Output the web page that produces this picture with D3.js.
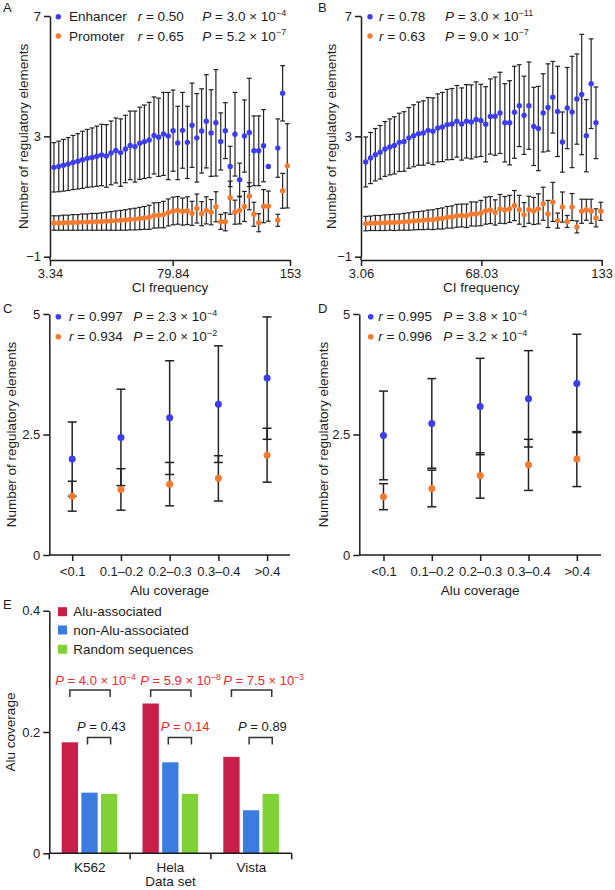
<!DOCTYPE html>
<html><head><meta charset="utf-8">
<script src="https://cdn.jsdelivr.net/npm/d3@7"></script>
<style>
body{margin:0;background:#fff}
svg{display:block}
text{font-family:"Liberation Sans",Arial,Helvetica,sans-serif}
</style>
</head><body>
<svg id="chart" width="615" height="890"></svg>
<script>
// ---------------- DATA ----------------
// Panel A (CI frequency bins)
const ciFreqA = [5.8,8.8,11.7,14.7,17.7,20.7,23.6,26.6,29.6,32.5,35.5,38.5,41.4,44.4,47.4,50.4,53.3,56.3,59.3,62.2,65.2,68.2,71.1,74.1,77.1,80.1,83.0,86.0,89.0,91.9,94.9,97.9,100.8,103.8,106.8,109.8,112.7,115.7,118.7,121.6,124.6,127.6,130.5,133.5,136.5,139.5,142.4,145.4,148.4,151.3];
const enhancerA = [1.97,2.00,2.04,2.08,2.13,2.17,2.22,2.27,2.30,2.34,2.38,2.35,2.45,2.53,2.46,2.58,2.70,2.66,2.77,2.82,2.88,3.03,2.97,3.08,3.01,3.19,2.78,3.20,2.80,3.37,2.95,3.18,3.50,3.11,3.45,2.83,3.19,2.00,3.07,1.56,3.01,3.13,2.52,2.52,2.69,2.00,null,2.61,4.43,null];
const enhancerSdA = [0.82,0.84,0.86,0.88,0.90,0.92,0.95,0.96,0.98,1.00,1.02,1.04,1.06,1.08,1.12,1.12,1.14,1.18,1.20,1.22,1.25,1.28,1.30,1.38,1.45,1.35,1.22,1.26,1.20,1.40,1.47,1.40,1.55,1.44,1.77,0.95,0.93,0.67,1.39,0.55,1.20,1.80,1.16,1.16,1.20,0,null,0.97,0.92,null];
const promoterA = [0.12,0.12,0.13,0.13,0.14,0.14,0.15,0.15,0.16,0.16,0.17,0.18,0.19,0.20,0.21,0.22,0.24,0.25,0.27,0.29,0.31,0.37,0.38,0.40,0.47,0.52,0.54,0.50,0.53,0.44,0.60,0.43,0.54,0.48,0.66,0.16,0.16,0.96,0.48,0.54,0.67,1.01,0.41,0.13,0.68,0.68,null,0.21,1.19,2.02];
const promoterSdA = [0.24,0.24,0.25,0.25,0.26,0.26,0.27,0.27,0.28,0.28,0.29,0.30,0.31,0.32,0.33,0.34,0.35,0.36,0.37,0.38,0.40,0.42,0.42,0.44,0.45,0.46,0.46,0.45,0.46,0.40,0.48,0.40,0.45,0.42,0.50,0.25,0.30,0.55,0.40,0.45,0.50,0.45,0.40,0.30,0.55,0.50,null,0.20,0.58,1.40];
const xTicksA = [3.34, 79.84, 153];

// Panel B
const ciFreqB = [5.6,8.2,10.8,13.4,16.0,18.6,21.1,23.7,26.3,28.9,31.5,34.1,36.7,39.3,41.9,44.5,47.0,49.6,52.2,54.8,57.4,60.0,62.6,65.2,67.8,70.4,72.9,75.5,78.1,80.7,83.3,85.9,88.5,91.1,93.7,96.3,98.8,101.4,104.0,106.6,109.2,111.8,114.4,117.0,119.6,122.2,124.7,127.3,129.9,132.5];
const enhancerB = [2.15,2.28,2.39,2.47,2.58,2.65,2.70,2.80,2.83,2.95,3.02,3.09,3.11,3.20,3.17,3.28,3.31,3.39,3.41,3.50,3.41,3.50,3.48,3.56,3.53,3.40,3.66,3.67,3.78,3.45,3.45,3.80,4.02,3.70,4.02,3.33,3.26,3.78,3.96,4.30,3.83,2.81,3.94,3.81,4.24,4.39,3.02,4.75,3.45,null];
const enhancerSdB = [0.83,0.85,0.87,0.89,0.91,0.93,0.95,0.97,0.99,1.01,1.03,1.05,1.07,1.09,1.11,1.13,1.15,1.17,1.18,1.19,1.20,1.22,1.23,1.25,1.20,1.25,1.25,1.30,1.35,1.30,1.40,1.53,1.36,1.30,1.45,1.30,1.40,1.30,1.45,1.19,1.50,1.00,1.35,1.85,1.50,2.00,1.20,1.49,1.19,null];
const promoterB = [0.10,0.11,0.12,0.12,0.13,0.14,0.14,0.15,0.16,0.17,0.19,0.20,0.21,0.23,0.23,0.26,0.27,0.31,0.32,0.36,0.37,0.36,0.42,0.42,0.45,0.53,0.55,0.47,0.59,0.55,0.59,0.70,0.56,0.40,0.56,0.52,0.59,0.76,0.42,0.82,0.20,0.65,0.17,0.65,-0.01,0.51,0.56,0.51,0.29,0.51];
const promoterSdB = [0.24,0.24,0.25,0.25,0.26,0.26,0.27,0.27,0.28,0.29,0.30,0.30,0.31,0.32,0.33,0.34,0.35,0.36,0.37,0.38,0.38,0.39,0.40,0.40,0.42,0.45,0.45,0.42,0.48,0.45,0.45,0.50,0.48,0.40,0.45,0.45,0.50,0.55,0.45,0.65,0.25,0.50,0.20,0.45,0.20,0.40,0.35,0.40,0.30,0.30];
const xTicksB = [3.06, 68.03, 133];
const yTicksAB = [-1, 3, 7];

// Panels C, D (Alu coverage bins)
const aluBins = ["<0.1", "0.1\u20130.2", "0.2\u20130.3", "0.3\u20130.4", ">0.4"];
const enhancerC = [1.99, 2.44, 2.85, 3.13, 3.67];
const enhancerSdC = [0.77, 1.00, 1.18, 1.21, 1.27];
const promoterC = [1.22, 1.36, 1.47, 1.59, 2.07];
const promoterSdC = [0.31, 0.43, 0.45, 0.47, 0.56];
const enhancerD = [2.48, 2.73, 3.08, 3.24, 3.56];
const enhancerSdD = [0.92, 0.93, 1.00, 1.00, 1.02];
const promoterD = [1.21, 1.38, 1.65, 1.87, 1.99];
const promoterSdD = [0.27, 0.38, 0.47, 0.53, 0.57];
const yTicksCD = [0, 2.5, 5];

// Legend statistics
const statsA = [{name:"Enhancer", r:"0.50", p:"3.0", e:"\u22124"}, {name:"Promoter", r:"0.65", p:"5.2", e:"\u22127"}];
const statsB = [{r:"0.78", p:"3.0", e:"\u221211"}, {r:"0.63", p:"9.0", e:"\u22127"}];
const statsC = [{r:"0.997", p:"2.3", e:"\u22124"}, {r:"0.934", p:"2.0", e:"\u22122"}];
const statsD = [{r:"0.995", p:"3.8", e:"\u22124"}, {r:"0.996", p:"3.2", e:"\u22124"}];

// Panel E
const dataSets = ["K562", "Hela", "Vista"];
const seqGroups = ["Alu-associated", "non-Alu-associated", "Random sequences"];
const aluAssociated = [0.183, 0.247, 0.159];
const nonAluAssociated = [0.100, 0.150, 0.071];
const randomSequences = [0.098, 0.098, 0.098];
const yTicksE = [0, 0.2, 0.4];
const pAluVsRandom = [{p:"4.0", e:"\u22124", sig:true}, {p:"5.9", e:"\u22128", sig:true}, {p:"7.5", e:"\u22123", sig:true}];
const pNonVsRandom = [{p:"0.43", e:null, sig:false}, {p:"0.14", e:null, sig:true}, {p:"0.89", e:null, sig:false}];

// ---------------- STYLE ----------------
const BLUE = "#3c3cf2", ORANGE = "#f57a2d", INK = "#1c1c1c", RED = "#f2262b";
const BAR_COLORS = ["#c81f4a", "#3b7ce0", "#7fd136"];
const labelShift1 = [5.6, 9.7, 12];   // horizontal nudge of upper P labels (style)
const labelShift2 = [2.3, 5.3, 1.8];  // horizontal nudge of lower P labels (style)
const svg = d3.select("#chart");
const fmtTick = d => (d < 0 ? "\u2212" + Math.abs(d) : String(d));

function styleAxis(sel){
  sel.select(".domain").attr("stroke", INK).attr("stroke-width", 1.5);
  sel.selectAll(".tick line").attr("stroke", INK).attr("stroke-width", 1.5);
  sel.selectAll(".tick text").attr("fill", INK).attr("font-size", 13).attr("font-family", null);
}

function addP(g, x, y, mant, exp, color, anchor, size, esize){
  const t = g.append("text").attr("x", x).attr("y", y).attr("fill", color)
    .attr("font-size", size || 13.5).attr("text-anchor", anchor || "start");
  t.append("tspan").attr("font-style", "italic").text("P");
  t.append("tspan").text(" = " + mant + (exp ? " \u00d7 10" : ""));
  if (exp) t.append("tspan").attr("font-size", esize || 9).attr("dy", -5.5).text(exp);
  return t;
}
function addR(g, x, y, r){
  const t = g.append("text").attr("x", x).attr("y", y).attr("fill", INK).attr("font-size", 13.5);
  t.append("tspan").attr("font-style", "italic").text("r");
  t.append("tspan").text(" = " + r);
}

function panelLetter(x, y, L){
  svg.append("text").attr("x", x).attr("y", y).attr("font-size", 13).attr("fill", INK).text(L);
}

// ---------------- SCATTER PANELS ----------------
function scatterPanel(o){
  const g = svg.append("g");
  let x;
  if (o.cats) x = d3.scalePoint().domain(o.cats).range([o.xl, o.xr]).padding(o.pad);
  else x = d3.scaleLinear().domain([o.xTicks[0], o.xTicks[o.xTicks.length-1]]).range([o.xl, o.xr]);
  const y = d3.scaleLinear().domain([o.yTicks[0], o.yTicks[o.yTicks.length-1]]).range([o.yb, o.yt]);

  const ya = g.append("g").attr("transform", `translate(${o.xl},0)`)
    .call(d3.axisLeft(y).tickValues(o.yTicks).tickFormat(fmtTick).tickSize(6).tickSizeOuter(0).tickPadding(3));
  styleAxis(ya);
  if (o.axisY > o.yb) g.append("line").attr("x1", o.xl).attr("x2", o.xl).attr("y1", o.yb).attr("y2", o.axisY)
      .attr("stroke", INK).attr("stroke-width", 1.5);
  const xAxis = o.cats ? d3.axisBottom(x) : d3.axisBottom(x).tickValues(o.xTicks).tickFormat(d => String(d));
  const xa = g.append("g").attr("transform", `translate(0,${o.axisY})`)
    .call(xAxis.tickSize(6).tickSizeOuter(0).tickPadding(o.cats ? 6 : 3));
  styleAxis(xa);
  if (o.cats) xa.select(".domain").attr("d", `M${o.xl},0H${o.xr}`);

  g.append("text").attr("x", (o.xl + o.xr) / 2).attr("y", o.xTitleY).attr("text-anchor", "middle")
    .attr("font-size", 13.5).attr("fill", INK).text(o.xTitle);
  g.append("text").attr("transform", `translate(${o.yTitleX},${(o.yt + o.yb) / 2}) rotate(-90)`)
    .attr("text-anchor", "middle").attr("dy", "0.35em").attr("font-size", 13.5).attr("fill", INK)
    .text("Number of regulatory elements");

  const xs = o.cats ? o.cats : o.xs;
  o.series.forEach(s => {
    s.vals.forEach((v, i) => {
      const sd = s.sds[i];
      if (v == null || !sd) return;
      const cx = x(xs[i]);
      const eg = g.append("g").attr("stroke", "#222").attr("stroke-width", o.ebw);
      eg.append("line").attr("x1", cx).attr("x2", cx).attr("y1", y(v - sd)).attr("y2", y(v + sd));
      eg.append("line").attr("x1", cx - o.cap).attr("x2", cx + o.cap).attr("y1", y(v - sd)).attr("y2", y(v - sd));
      eg.append("line").attr("x1", cx - o.cap).attr("x2", cx + o.cap).attr("y1", y(v + sd)).attr("y2", y(v + sd));
    });
  });
  o.series.forEach(s => {
    g.selectAll(null).data(s.vals.map((v, i) => ({v, k: xs[i]})).filter(d => d.v != null))
      .enter().append("circle").attr("cx", d => x(d.k)).attr("cy", d => y(d.v))
      .attr("r", o.dotR).attr("fill", s.color);
  });

  o.stats.forEach((st, i) => {
    const ly = o.legY + i * o.legDy;
    g.append("circle").attr("cx", o.legDotX).attr("cy", ly).attr("r", o.legR).attr("fill", o.series[i].color);
    if (st.name) {
      g.append("text").attr("x", o.legTextX).attr("y", ly + 4.7).attr("font-size", 13.5).attr("fill", INK).text(st.name);
    }
    addR(g, o.legRX, ly + 4.7, st.r);
    addP(g, o.legPX, ly + 4.7, st.p, st.e, INK);
  });
}

scatterPanel({
  xl: 50, xr: 290, yt: 16, yb: 256.7, axisY: 260, xs: ciFreqA, xTicks: xTicksA, yTicks: yTicksAB,
  xTitle: "CI frequency", xTitleY: 291.5, yTitleX: 22.8,
  series: [{vals: enhancerA, sds: enhancerSdA, color: BLUE}, {vals: promoterA, sds: promoterSdA, color: ORANGE}],
  dotR: 2.7, cap: 2.4, ebw: 1.2,
  stats: statsA, legY: 16.7, legDy: 19.3, legDotX: 58.3, legR: 2.7, legTextX: 69, legRX: 137.7, legPX: 202.3
});
scatterPanel({
  xl: 361, xr: 601.7, yt: 16, yb: 256.7, axisY: 260, xs: ciFreqB, xTicks: xTicksB, yTicks: yTicksAB,
  xTitle: "CI frequency", xTitleY: 291.5, yTitleX: 331.7,
  series: [{vals: enhancerB, sds: enhancerSdB, color: BLUE}, {vals: promoterB, sds: promoterSdB, color: ORANGE}],
  dotR: 2.7, cap: 2.4, ebw: 1.2,
  stats: statsB, legY: 16.7, legDy: 19.3, legDotX: 370, legR: 2.7, legTextX: 379, legRX: 379, legPX: 445
});
scatterPanel({
  xl: 49.3, xr: 290, yt: 314, yb: 555, axisY: 555, cats: aluBins, pad: 0.47, yTicks: yTicksCD,
  xTitle: "Alu coverage", xTitleY: 595, yTitleX: 11,
  series: [{vals: enhancerC, sds: enhancerSdC, color: BLUE}, {vals: promoterC, sds: promoterSdC, color: ORANGE}],
  dotR: 3.5, cap: 4.5, ebw: 1.5,
  stats: statsC, legY: 316.7, legDy: 20, legDotX: 58.3, legR: 2.8, legTextX: 69, legRX: 69, legPX: 133.3
});
scatterPanel({
  xl: 359.3, xr: 601, yt: 314, yb: 555, axisY: 555, cats: aluBins, pad: 0.5, yTicks: yTicksCD,
  xTitle: "Alu coverage", xTitleY: 595, yTitleX: 323,
  series: [{vals: enhancerD, sds: enhancerSdD, color: BLUE}, {vals: promoterD, sds: promoterSdD, color: ORANGE}],
  dotR: 3.5, cap: 4.5, ebw: 1.5,
  stats: statsD, legY: 316.7, legDy: 20, legDotX: 370.7, legR: 2.8, legTextX: 378.3, legRX: 378.3, legPX: 443.3
});

// ---------------- PANEL E ----------------
(function(){
  const xl = 49.3, xr = 291.7, yt = 610.7, yb = 853.3;
  const g = svg.append("g");
  const x0 = d3.scaleBand().domain(dataSets).range([xl, xr]).padding(0);
  const x1 = d3.scaleBand().domain(seqGroups).range([12.4, 68]).paddingInner(0.17);
  const y = d3.scaleLinear().domain([0, 0.4]).range([yb, yt]);
  const seriesE = [aluAssociated, nonAluAssociated, randomSequences];

  const ya = g.append("g").attr("transform", `translate(${xl},0)`)
    .call(d3.axisLeft(y).tickValues(yTicksE).tickFormat(d => String(d)).tickSize(6).tickSizeOuter(0).tickPadding(3));
  styleAxis(ya);

  seriesE.forEach((vals, si) => {
    g.selectAll(null).data(vals).enter().append("rect")
      .attr("x", (d, i) => x0(dataSets[i]) + x1(seqGroups[si]))
      .attr("width", x1.bandwidth())
      .attr("y", d => y(d)).attr("height", d => yb - y(d))
      .attr("fill", BAR_COLORS[si]);
  });

  const xa = g.append("g").attr("transform", `translate(0,${yb})`);
  xa.append("line").attr("x1", xl).attr("x2", xr).attr("stroke", INK).attr("stroke-width", 1.5);
  const bounds = dataSets.map(d => x0(d)).concat([xr]);
  xa.selectAll(null).data(bounds).enter().append("line")
    .attr("x1", d => d).attr("x2", d => d).attr("y1", 0).attr("y2", 6).attr("stroke", INK).attr("stroke-width", 1.5);
  xa.selectAll(null).data(dataSets).enter().append("text")
    .attr("x", d => x0(d) + x0.bandwidth() / 2).attr("y", 18.5).attr("text-anchor", "middle")
    .attr("font-size", 13.5).attr("fill", INK).text(d => d);
  g.append("text").attr("x", (xl + xr) / 2).attr("y", 886).attr("text-anchor", "middle")
    .attr("font-size", 13.5).attr("fill", INK).text("Data set");
  g.append("text").attr("transform", `translate(10,${(yt + yb) / 2}) rotate(-90)`)
    .attr("text-anchor", "middle").attr("dy", "0.35em").attr("font-size", 13.5).attr("fill", INK).text("Alu coverage");

  const center = (ds, grp) => x0(ds) + x1(grp) + x1.bandwidth() / 2;
  function bracket(xa1, xa2, by, label, txtY, shift){
    const p = `M${xa1},${by + 7}V${by}H${xa2}V${by + 7}`;
    g.append("path").attr("d", p).attr("fill", "none").attr("stroke", "#333").attr("stroke-width", 1.5);
    addP(g, (xa1 + xa2) / 2 + shift, txtY, label.p, label.e, label.sig ? RED : INK, "middle", 13, 8.5);
  }
  dataSets.forEach((ds, i) => {
    bracket(center(ds, seqGroups[0]), center(ds, seqGroups[2]) + 1, 690, pAluVsRandom[i], 685, labelShift1[i]);
    bracket(center(ds, seqGroups[1]) - 2, center(ds, seqGroups[2]) + 1.5, 737.5, pNonVsRandom[i], 730.5, labelShift2[i]);
  });

  seqGroups.forEach((s, i) => {
    const cy = [611.7, 630, 649.3][i];
    g.append("rect").attr("x", 58).attr("y", cy - 4.5).attr("width", 9).attr("height", 9).attr("fill", BAR_COLORS[i]);
    g.append("text").attr("x", 73.3).attr("y", cy + 4.7).attr("font-size", 13.5).attr("fill", INK).text(s);
  });
})();

panelLetter(3, 12, "A");
panelLetter(318, 12, "B");
panelLetter(3, 313, "C");
panelLetter(318, 313, "D");
panelLetter(3, 609, "E");
</script>
</body></html>
